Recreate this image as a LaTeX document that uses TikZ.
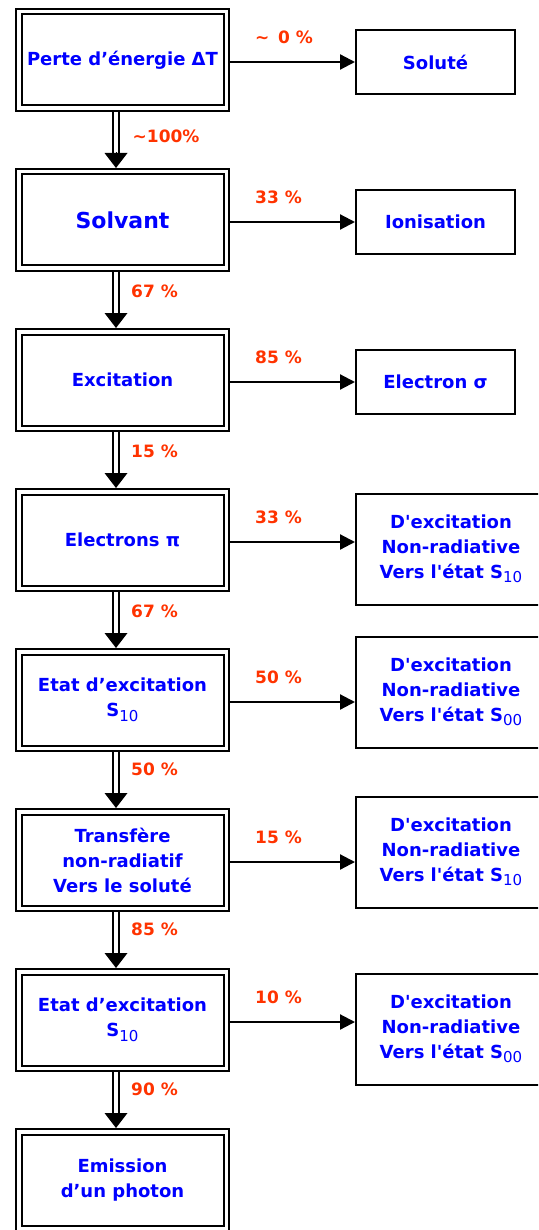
\documentclass[tikz,border=0pt]{standalone}
\usepackage{fontspec}
\setmainfont{DejaVu Sans}
\usetikzlibrary{arrows.meta,positioning,calc}
\definecolor{txtblue}{RGB}{0,0,255}
\definecolor{pctred}{RGB}{255,51,0}
\newcommand\sbs[1]{\raisebox{-4.5pt}{\fontsize{15}{15}\selectfont\mdseries #1}}
\tikzset{
	stage/.style={draw, double, line width=2pt, double distance=3.5pt, outer sep=3.75pt, inner sep=0pt,
		minimum width=207.5pt, minimum height=96.5pt, align=center, text=txtblue,
		font=\fontsize{18}{25}\selectfont\bfseries},
	result/.style={draw, line width=2pt, inner sep=0pt, minimum width=159pt, minimum height=64pt,
		align=center, text=txtblue, font=\fontsize{18}{25}\selectfont\bfseries},
	wide/.style={result, minimum width=190pt, minimum height=111pt},
	pct/.style={text=pctred, inner sep=0pt, font=\fontsize{17}{17}\selectfont\bfseries},
	hflow/.style={line width=2.2pt, -{Triangle[length=15pt,width=15pt]}},
	vflow/.style={double, line width=2pt, double distance=3.5pt, shorten >=14pt},
	vtip/.style={line width=0pt, -{Triangle[length=15pt,width=23pt]}}
}

\begin{document}
\begin{tikzpicture}[x=1pt,y=-1pt]
				%%%%% START %%%%%
				\def\xl{122.5}
				\def\xr{435.5}
				\def\xw{451}
				\def\dv{6.5pt}
				
				\useasboundingbox (0,0) rectangle (538,1230);
				\clip (0,0) rectangle (538,1230);
				
				% left column
				\node[stage] (perte) at (\xl,60) {Perte d’énergie ΔT};
				\node[stage, font=\fontsize{22}{22}\selectfont\bfseries] (solvant) at (\xl,220) {Solvant};
				\node[stage] (excit) at (\xl,380) {Excitation};
				\node[stage] (elpi) at (\xl,540) {Electrons π};
				\node[stage] (etata) at (\xl,700) {Etat d’excitation\\S\sbs{10}};
				\node[stage] (transf) at (\xl,860) {Transfère\\non-radiatif\\Vers le soluté};
				\node[stage] (etatb) at (\xl,1020) {Etat d’excitation\\S\sbs{10}};
				\node[stage] (emis) at (\xl,1180) {Emission\\d’un photon};
				
				% right column
				\node[result] (solute) at (\xr,62) {Soluté};
				\node[result] (ionis) at (\xr,222) {Ionisation};
				\node[result] (elsig) at (\xr,382) {Electron σ};
				\node[wide] (desa) at (\xw,549) {D\textquotesingle excitation\\Non-radiative\\Vers l\textquotesingle état S\sbs{10}};
				\node[wide] (desb) at (\xw,692) {D\textquotesingle excitation\\Non-radiative\\Vers l\textquotesingle état S\sbs{00}};
				\node[wide] (desc) at (\xw,852) {D\textquotesingle excitation\\Non-radiative\\Vers l\textquotesingle état S\sbs{10}};
				\node[wide] (desd) at (\xw,1029) {D\textquotesingle excitation\\Non-radiative\\Vers l\textquotesingle état S\sbs{00}};
				
				% side branches
				\foreach \a/\b in {perte/solute,solvant/ionis,excit/elsig,elpi/desa,etata/desb,transf/desc,etatb/desd}
					\draw[hflow] ([yshift=-2pt]\a.east) -- ([yshift=-2pt]\a.east -| \b.west);
				
				% main chain
				\foreach \a/\b in {perte/solvant,solvant/excit,excit/elpi,elpi/etata,etata/transf,transf/etatb,etatb/emis}{
					\draw[vflow] ([xshift=-\dv]\a.south) -- ([xshift=-\dv]\b.north);
					\draw[vtip] ([xshift=-\dv,yshift=15pt]\b.north) -- ([xshift=-\dv]\b.north);
				}
				
				% percentages
				\node[pct, anchor=west] (ha) at ([xshift=25pt,yshift=23pt]perte.east) {\textasciitilde{}\, 0 \%};
				\node[pct, anchor=west] (hb) at ([xshift=25pt,yshift=23pt]solvant.east) {33 \%};
				\node[pct, anchor=west] (hc) at ([xshift=25pt,yshift=23pt]excit.east) {85 \%};
				\node[pct, anchor=west] (hd) at ([xshift=25pt,yshift=23pt]elpi.east) {33 \%};
				\node[pct, anchor=west] (he) at ([xshift=25pt,yshift=23pt]etata.east) {50 \%};
				\node[pct, anchor=west] (hf) at ([xshift=25pt,yshift=23pt]transf.east) {15 \%};
				\node[pct, anchor=west] (hg) at ([xshift=25pt,yshift=23pt]etatb.east) {10 \%};
				
				\node[pct, anchor=west] (va) at ([xshift=10pt,yshift=-24pt]perte.south) {\textasciitilde 100\%};
				\node[pct, anchor=west] (vb) at ([xshift=8.5pt,yshift=-19pt]solvant.south) {67 \%};
				\node[pct, anchor=west] (vc) at ([xshift=8.5pt,yshift=-19pt]excit.south) {15 \%};
				\node[pct, anchor=west] (vd) at ([xshift=8.5pt,yshift=-19pt]elpi.south) {67 \%};
				\node[pct, anchor=west] (ve) at ([xshift=8.5pt,yshift=-17pt]etata.south) {50 \%};
				\node[pct, anchor=west] (vf) at ([xshift=8.5pt,yshift=-17pt]transf.south) {85 \%};
				\node[pct, anchor=west] (vg) at ([xshift=8.5pt,yshift=-17pt]etatb.south) {90 \%};
				%%%%% END %%%%%
\end{tikzpicture}
\end{document}
